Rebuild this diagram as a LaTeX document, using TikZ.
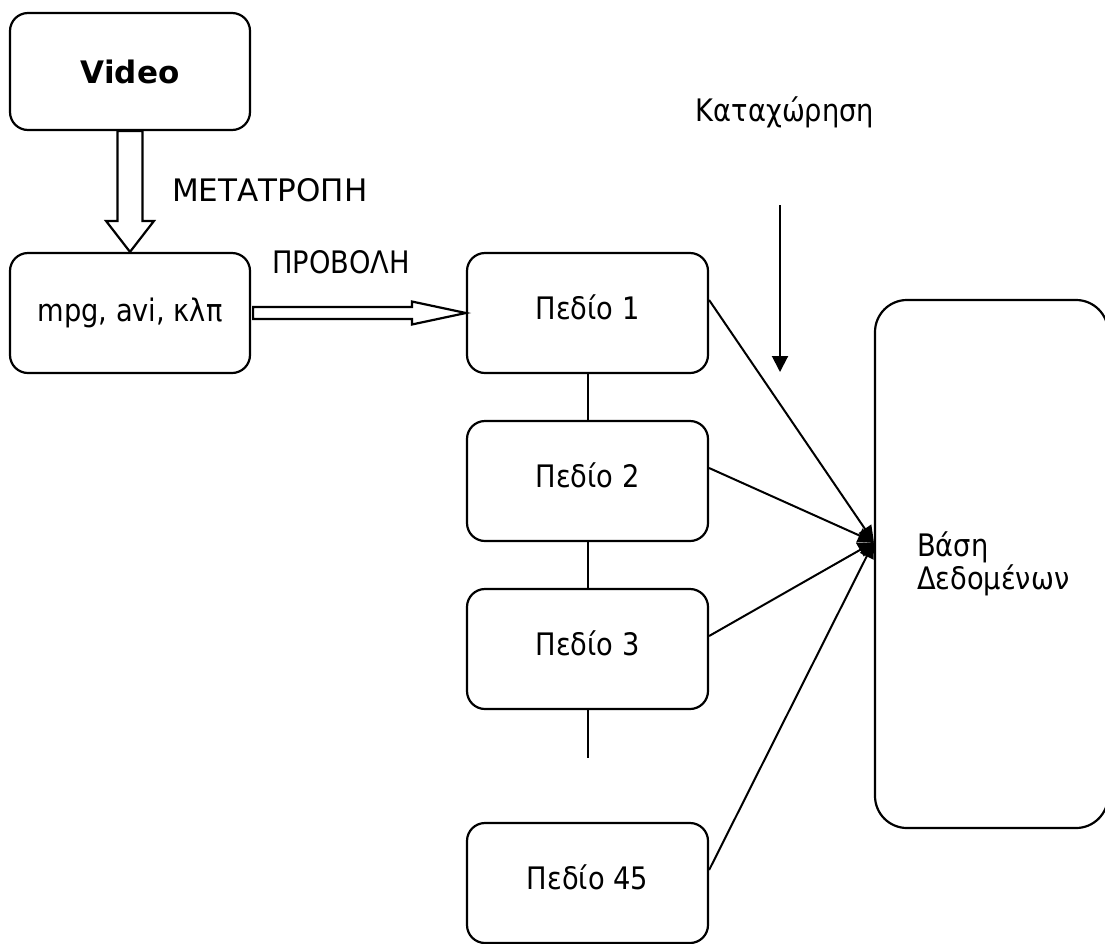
\documentclass[tikz,border=0pt]{standalone}
\usepackage{fontspec}
\setmainfont[FakeStretch=0.88]{DejaVu Sans}
\newfontfamily\widefont{DejaVu Sans}
\usetikzlibrary{calc,arrows.meta}

\begin{document}
\begin{tikzpicture}[x=1pt,y=-1pt,
  every node/.style={font=\fontsize{31}{33}\selectfont},
  box/.style={draw,line width=2.2pt,rounded corners=18pt,minimum width=241pt,minimum height=120pt,inner sep=0pt},
  field/.style={box,text height=22pt,text depth=9.5pt},
  hollow/.style={draw,line width=2.2pt,line join=miter,fill=white},
  link/.style={line width=2pt},
  feed/.style={line width=2pt,-{Triangle[length=16pt,width=15pt]}},
  txt/.style={inner sep=0pt}]
\useasboundingbox (0,0) rectangle (1105,943);

% boxes
\node[box,minimum width=240pt,minimum height=117pt] (video) at (130,71.5) {\widefont\bfseries Video};
\node[box,minimum width=240pt] (mpg) at (130,313) {mpg, avi, κλπ};
\node[field] (p1) at (587.5,313) {Πεδίο 1};
\node[field] (p2) at (587.5,481) {Πεδίο 2};
\node[field] (p3) at (587.5,649) {Πεδίο 3};
\node[field] (p45) at (587.5,883) {Πεδίο 45};
\node[box,rounded corners=32pt,minimum width=233pt,minimum height=528pt,
      text width=149pt,inner xsep=42pt,align=left] (db) at (991.5,564) {Βάση\\Δεδομένων};

% labels
\node[txt,anchor=west] (conv) at (172,190) {\widefont ΜΕΤΑΤΡΟΠΗ};
\node[txt,anchor=west] (proj) at (272,262) {ΠΡΟΒΟΛΗ};
\node[txt] (reg) at (785,112) {Καταχώρηση};

% conversion: hollow block arrow Video -> mpg
\coordinate (a1) at (video.south);
\coordinate (a2) at (mpg.north);
\draw[hollow] ($(a1)+(-12.5,0)$) -- ($(a2)+(-12.5,-31)$) -- ($(a2)+(-24,-31)$) -- (a2)
  -- ($(a2)+(24,-31)$) -- ($(a2)+(12.5,-31)$) -- ($(a1)+(12.5,0)$) -- cycle;

% projection: hollow block arrow mpg -> field 1
\coordinate (b1) at ($(mpg.east)+(2,0)$);
\coordinate (b2) at (p1.west);
\draw[hollow] ($(b1)+(0,-6)$) -- ($(b2)+(-54,-6)$) -- ($(b2)+(-54,-11.5)$) -- (b2)
  -- ($(b2)+(-54,11.5)$) -- ($(b2)+(-54,6)$) -- ($(b1)+(0,6)$) -- cycle;

% chain of fields
\coordinate (tail) at ($(p3.south)+(0,48)$);
\draw[link] (p1.south) -- (p2.north);
\draw[link] (p2.south) -- (p3.north);
\draw[link] (p3.south) -- (tail);

% fields feeding the database
\coordinate (hub) at ($(db.west)+(0,-22)$);
\draw[feed] ($(p1.east)+(0,-13)$) -- (hub);
\draw[feed] ($(p2.east)+(0,-13)$) -- (hub);
\draw[feed] ($(p3.east)+(0,-13)$) -- (hub);
\draw[feed] ($(p45.east)+(0,-13)$) -- (hub);

% registration arrow
\coordinate (r1) at (780,205);
\coordinate (r2) at (780,372);
\draw[line width=2pt,-{Triangle[length=16pt,width=16pt]}] (r1) -- (r2);
\end{tikzpicture}
\end{document}
